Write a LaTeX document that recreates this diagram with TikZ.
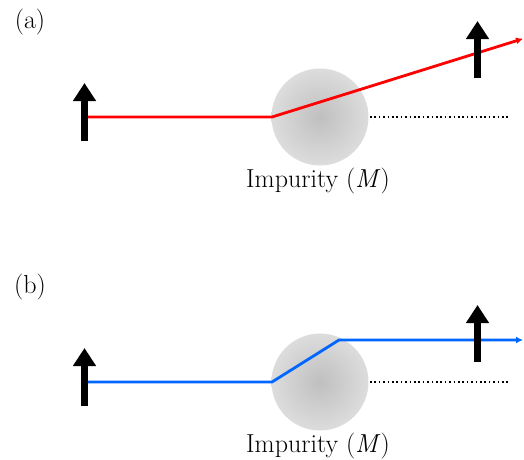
\documentclass[tikz,border=0pt]{standalone}
\usetikzlibrary{arrows.meta,positioning}

\tikzset{
  spin/.style = {line width=7pt, -{Triangle[length=18pt,width=22pt]}},
  impurity/.style = {shading=radial, inner color=gray!50, outer color=gray!27},
  tail/.style = {line width=1.6pt, dash pattern=on 1.6pt off 2.8pt},
  ray/.style = {line width=2.8pt, line join=miter, -{Latex[length=7pt,width=7pt]}}
}
\definecolor{raya}{RGB}{255,0,0}
\definecolor{rayb}{RGB}{0,102,255}

\begin{document}
\begin{tikzpicture}[x=1pt, y=-1pt, font=\fontsize{26}{28}\selectfont]
            \useasboundingbox (0,0) rectangle (524,459);
            % (a)
            \begin{scope}
            \node (laba) at (30,22) {(a)};
            % impurity
            \coordinate (ca) at (320,117);
            \path[impurity] (ca) circle (48.5);
            \node[anchor=base] (impa) at (318,187) {Impurity (\textit{M})};
            % dotted line
            \coordinate (ta0) at (370,117);
            \coordinate (ta1) at (510,117);
            \path[draw, tail] (ta0) to (ta1);
            % ray
            \coordinate (ra0) at (88,117);
            \coordinate (ra1) at (272,117);
            \coordinate (ra2) at (523,38.7);
            \path[draw, ray, raya] (ra0) -- (ra1) -- (ra2);
            % spins
            \coordinate (sa0) at (84.5,141);
            \coordinate (sa1) at (84.5,83);
            \path[draw, spin] (sa0) to (sa1);
            \coordinate (sa2) at (477.5,78);
            \coordinate (sa3) at (477.5,21);
            \path[draw, spin] (sa2) to (sa3);
            \end{scope}
            % (b)
            \begin{scope}[shift={(0,265)}]
            \node (labb) at (30,22) {(b)};
            % impurity
            \coordinate (cb) at (320,117);
            \path[impurity] (cb) circle (48.5);
            \node[anchor=base] (impb) at (318,187) {Impurity (\textit{M})};
            % dotted line
            \coordinate (tb0) at (370,117);
            \coordinate (tb1) at (510,117);
            \path[draw, tail] (tb0) to (tb1);
            % ray
            \coordinate (rb0) at (88,117);
            \coordinate (rb1) at (272,117);
            \coordinate (rb2) at (339,75);
            \coordinate (rb3) at (523,75);
            \path[draw, ray, rayb] (rb0) -- (rb1) -- (rb2) -- (rb3);
            % spins
            \coordinate (sb0) at (84.5,141);
            \coordinate (sb1) at (84.5,83);
            \path[draw, spin] (sb0) to (sb1);
            \coordinate (sb2) at (477.5,97);
            \coordinate (sb3) at (477.5,40);
            \path[draw, spin] (sb2) to (sb3);
            \end{scope}
        \end{tikzpicture}
\end{document}
